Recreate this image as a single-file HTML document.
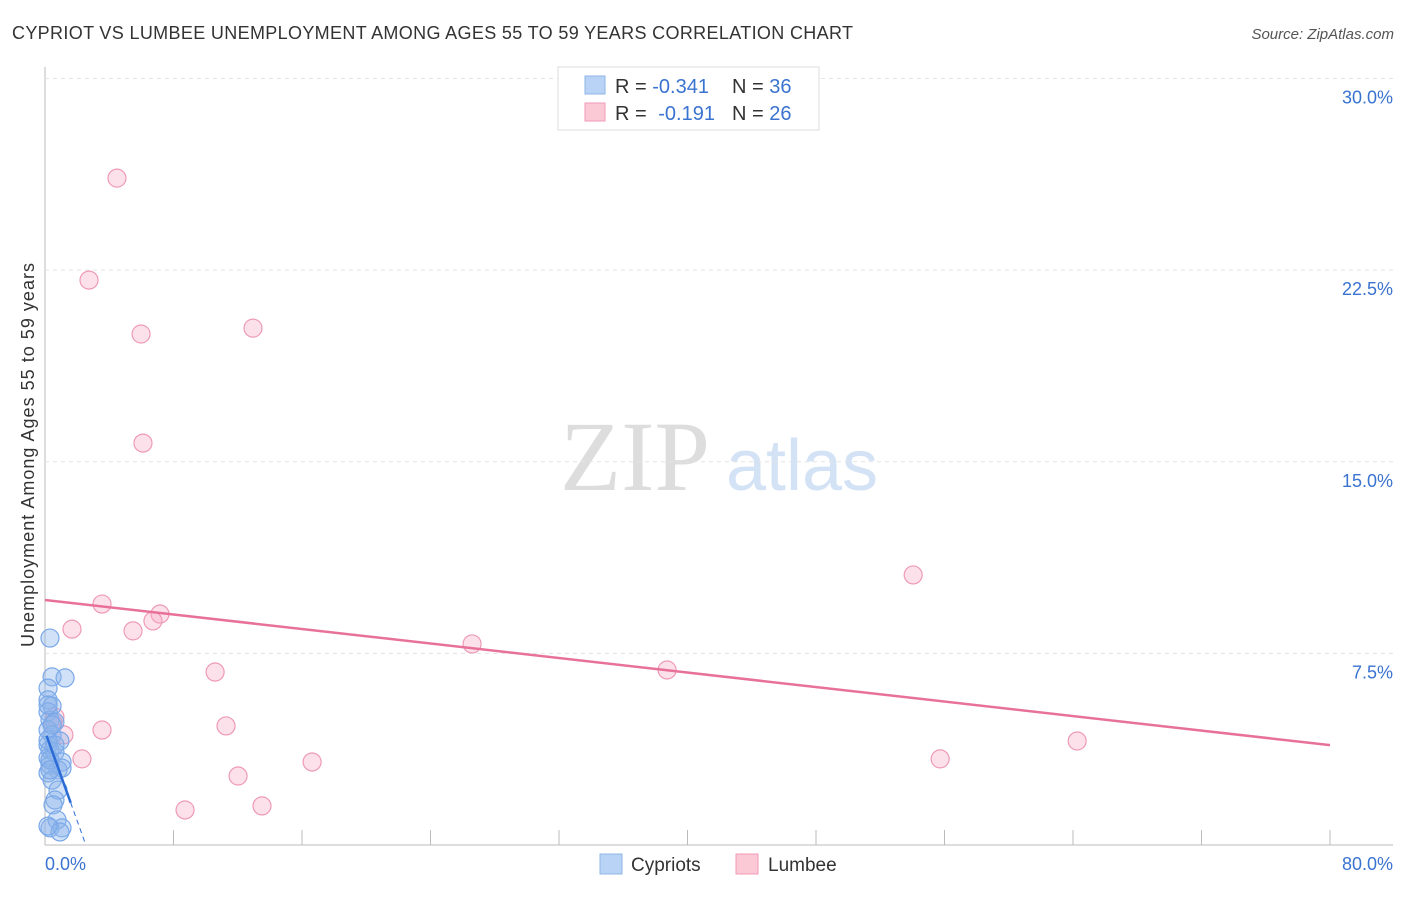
<!DOCTYPE html>
<html><head><meta charset="utf-8"><style>
body{margin:0;background:#fff;font-family:"Liberation Sans",sans-serif}
</style></head><body>
<svg id="c" width="1406" height="892" xmlns="http://www.w3.org/2000/svg">
<text x="12" y="39" font-size="18" fill="#333" textLength="841">CYPRIOT VS LUMBEE UNEMPLOYMENT AMONG AGES 55 TO 59 YEARS CORRELATION CHART</text>
<text x="1394" y="39" font-size="15" fill="#555" font-style="italic" text-anchor="end">Source: ZipAtlas.com</text>
<text x="34" y="455" font-size="18" fill="#333" text-anchor="middle" textLength="384" transform="rotate(-90 34 455)">Unemployment Among Ages 55 to 59 years</text>
<g><text x="635" y="490" font-size="100" fill="#ddd" font-family="Liberation Serif,serif" text-anchor="middle">ZIP</text><text x="802" y="490" font-size="72" fill="#d3e2f5" text-anchor="middle">atlas</text></g>
<g id="grid"></g><g id="marks"></g>
<g>
<rect x="558" y="67" width="261" height="63" fill="#fff" stroke="#ddd"/>
<rect x="585" y="76" width="20" height="18" fill="#b8d3f5" stroke="#8fb5e8"/>
<rect x="585" y="103" width="20" height="18" fill="#fbc8d6" stroke="#f09ab5"/>
<text x="615" y="93" font-size="20" fill="#333">R = <tspan fill="#3a73d0">-0.341</tspan><tspan x="732">N = </tspan><tspan fill="#3a73d0">36</tspan></text>
<text x="615" y="120" font-size="20" fill="#333">R = <tspan fill="#3a73d0" dx="6">-0.191</tspan><tspan x="732">N = </tspan><tspan fill="#3a73d0">26</tspan></text>
</g>
<g>
<rect x="600" y="854" width="22" height="20" fill="#b8d3f5" stroke="#8fb5e8"/>
<text x="631" y="871" font-size="19" fill="#333">Cypriots</text>
<rect x="736" y="854" width="22" height="20" fill="#fbc8d6" stroke="#f09ab5"/>
<text x="768" y="871" font-size="19" fill="#333">Lumbee</text>
</g>
</svg>
<script>
const xTicks=[0,8,16,24,32,40,48,56,64,72,80];
const yTicks=[7.5,15,22.5,30];
const cypX=[0.31,0.44,1.25,0.19,0.19,0.44,0.19,0.31,0.62,0.19,0.44,0.93,0.19,0.31,0.62,0.19,1.06,0.31,0.81,0.19,1.06,0.44,0.81,0.62,0.5,0.75,0.31,1.06,0.93,0.19,0.19,0.31,0.62,0.19,0.44,0.31];
const cypY=[8.1,6.58,6.54,6.14,5.68,5.44,5.21,4.89,4.81,4.5,4.31,4.07,3.91,3.72,3.64,3.41,3.25,3.13,2.94,2.82,3.01,2.54,2.15,1.76,1.57,0.98,0.67,0.67,0.51,0.74,4.11,3.33,3.91,5.48,4.7,2.94];
const lumX=[4.48,2.74,5.98,12.95,6.1,54.05,3.55,1.68,5.48,7.16,6.72,26.59,38.73,10.59,3.55,11.27,0.62,0.5,1.18,2.3,16.63,12.02,8.72,13.51,55.73,64.26];
const lumY=[26.1,22.11,20.0,20.23,15.73,10.57,9.43,8.45,8.38,9.04,8.77,7.87,6.85,6.77,4.5,4.66,5.01,4.77,4.31,3.37,3.25,2.7,1.37,1.53,3.37,4.07];
const lumTrend=[9.59,3.91];
const cypTrend=[4.45,-1.75];
const NS="http://www.w3.org/2000/svg";
const X=v=>45+v*16.0625, Y=v=>845-v*25.55;
function mk(t,a,p){const e=document.createElementNS(NS,t);for(const k in a)e.setAttribute(k,a[k]);p.appendChild(e);return e;}
const g=document.getElementById('grid'), m=document.getElementById('marks');
const ax=mk('line',{x1:45,y1:67,x2:45,y2:845,stroke:'#bbb'},g);


const bx=mk('line',{x1:45,y1:845,x2:1393,y2:845,stroke:'#bbb'},g);


xTicks.forEach((t,i)=>{if(i>0){const l=mk('line',{x1:X(t),y1:845,x2:X(t),y2:830,stroke:'#bbb'},g);

}});
[[0,'0.0%',45,'start'],[80,'80.0%',1393,'end']].forEach(d=>{const t=mk('text',{x:d[2],y:870,'font-size':18,fill:'#3a73d0','text-anchor':d[3]},g);t.textContent=d[1];

});
yTicks.forEach(t=>{const l=mk('line',{x1:45,y1:Y(t),x2:1393,y2:Y(t),stroke:'#e3e3e3','stroke-dasharray':'4,4'},g);


const tx=mk('text',{x:1393,y:Y(t)+25,'font-size':18,fill:'#3a73d0','text-anchor':'end'},g);tx.textContent=t.toFixed(1)+'%';

});
lumX.forEach((x,i)=>{const c=mk('circle',{cx:X(x),cy:Y(lumY[i]),r:9,fill:'rgba(248,170,195,0.35)',stroke:'#ee9ab5','stroke-width':1.2},m);

});
cypX.forEach((x,i)=>{const c=mk('circle',{cx:X(x),cy:Y(cypY[i]),r:9,fill:'rgba(140,180,235,0.4)',stroke:'#7aa8e8','stroke-width':1.2},m);

});
const lt=mk('line',{x1:X(0),y1:Y(lumTrend[0]),x2:X(80),y2:Y(lumTrend[1]),stroke:'#e8719a','stroke-width':2.5},m);


const cy=x=>cypTrend[0]+cypTrend[1]*x;
const ct=mk('line',{x1:X(0.1),y1:Y(cy(0.1)),x2:X(1.6),y2:Y(cy(1.6)),stroke:'#2a6bd6','stroke-width':2.5},m);


const x0=-cypTrend[0]/cypTrend[1];
const cd=mk('line',{x1:X(1.6),y1:Y(cy(1.6)),x2:X(x0),y2:Y(0),stroke:'#2a6bd6','stroke-width':1,'stroke-dasharray':'5,4'},m);


</script>
</body></html>
